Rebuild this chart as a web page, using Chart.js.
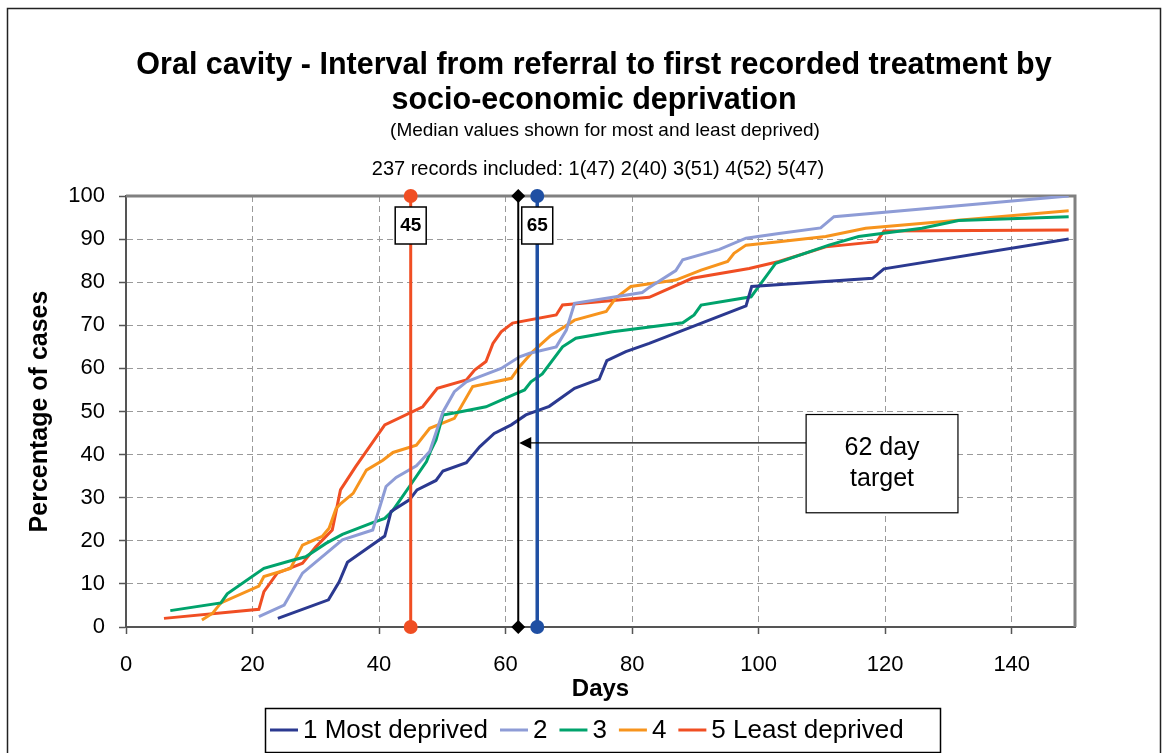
<!DOCTYPE html>
<html>
<head>
<meta charset="utf-8">
<script src="https://cdn.jsdelivr.net/npm/chart.js@4.4.1/dist/chart.umd.min.js"></script>
<style>
  html, body { margin: 0; padding: 0; background: #fff; }
  canvas { display: block; }
</style>
</head>
<body>
<canvas id="grafico" width="1167" height="753"></canvas>
<script>
// Datos (dias, % acumulado de casos)
const dias1 = [24, 32, 33.7, 35, 40.9, 41.9, 44.8, 46, 49, 50.1, 53.8, 55.9, 58.2, 60.9, 63.2, 66.9, 70.9, 74.8, 76, 79, 82.7, 98, 98.9, 118, 119.8, 149];
const pct1  = [2, 6.3, 10.5, 15, 21.1, 26.8, 29.5, 31.8, 34, 36.2, 38.1, 41.8, 44.9, 46.9, 49.2, 51.2, 55.4, 57.5, 61.8, 63.9, 65.8, 74.5, 79, 80.9, 83.1, 90];

const dias2 = [21, 25, 27.9, 34.2, 39, 41.1, 42.7, 45.9, 48, 50.1, 51.9, 53.8, 55.9, 59.3, 62.2, 63.8, 68, 69.6, 70.9, 81.6, 82.7, 86.9, 88, 93.8, 98, 103.2, 109.8, 111.9, 149];
const pct2  = [2.4, 5.1, 12.5, 20.2, 22.5, 32.6, 34.7, 37.4, 40.7, 49.9, 54.6, 56.9, 58.1, 60, 62.7, 63.5, 65, 68.9, 75.1, 77.6, 78.8, 82.7, 85.2, 87.6, 90.2, 91.3, 92.6, 95.2, 100];

const dias3 = [7, 15, 16, 21.8, 26.3, 28.4, 31.6, 34.2, 39, 40.9, 42.2, 44.8, 47.5, 48.2, 49, 50.1, 52.7, 56.9, 61.1, 63, 64, 65.8, 69, 71.1, 76.9, 88, 89.8, 90.9, 98.8, 102.7, 111.1, 115.8, 125.8, 131.6, 149];
const pct3  = [3.8, 5.6, 7.7, 13.6, 15.5, 16.3, 19.4, 21.5, 24.2, 25.2, 27.1, 32.6, 38.4, 41, 43.4, 49.2, 49.9, 51.1, 53.8, 55, 56.9, 58.7, 65, 67, 68.5, 70.6, 72.4, 74.7, 76.6, 84.4, 88.6, 90.6, 92.5, 94.3, 95.2];

const dias4 = [12, 13.7, 15, 21, 21.8, 26, 27.9, 31, 32.1, 33.2, 34, 35.9, 38, 40.6, 42.2, 45.9, 48, 51.9, 54.8, 60.9, 62.2, 64.3, 67.1, 70.9, 75.9, 77.4, 79.8, 86.9, 90.9, 95.1, 96.1, 98, 103.2, 110.6, 116.9, 149];
const pct4  = [1.6, 3.2, 5.6, 9.5, 11.7, 13.6, 19, 21, 22.9, 27.5, 28.7, 31, 36.4, 38.7, 40.5, 42.2, 46.1, 48.4, 55.8, 57.7, 60.4, 63.9, 67.6, 71.2, 73.2, 76.3, 79, 80.5, 82.8, 84.8, 86.7, 88.6, 89.4, 90.6, 92.5, 96.6];

const dias5 = [6, 21, 21.8, 23.9, 27.9, 30, 32.6, 33.9, 36.3, 40.9, 46.9, 49.2, 53.8, 55.1, 56.9, 58, 59.3, 61.1, 68, 69, 82.7, 89.5, 98.5, 103.2, 110.6, 118.7, 119.8, 149];
const pct5  = [2, 4.1, 8.2, 12.5, 14.8, 18.6, 22.5, 31.8, 37.2, 46.9, 51.1, 55.4, 57.3, 59.6, 61.6, 65.8, 68.5, 70.5, 72.4, 74.7, 76.5, 80.9, 83.2, 84.8, 88.2, 89.4, 91.9, 92.1];

const etiquetas = ['1 Most deprived', '2', '3', '4', '5 Least deprived'];
const ticksDias = [0, 20, 40, 60, 80, 100, 120, 140];

const medianaMenosPrivados = 45;   // grupo 5
const medianaMasPrivados = 65;     // grupo 1
const diaObjetivo = 62;

const TITULO = ['Oral cavity - Interval from referral to first recorded treatment by', 'socio-economic deprivation'];
const SUBTITULO = '(Median values shown for most and least deprived)';
const REGISTROS = '237 records included: 1(47) 2(40) 3(51) 4(52) 5(47)';

const COLORES = {
    S1: '#2B3990',
    S2: '#8E9CD6',
    S3: '#00A36C',
    S4: '#F7941D',
    S5: '#F04E23',
    AZUL: '#1F4FA3',
    TEXTO: '#000000',
    REJILLA: '#9A9A9A'
};

const FUENTE = 'Arial, "Liberation Sans", sans-serif';

function aPuntos(xs, ys) {
    return xs.map((d, i) => ({ x: d, y: ys[i] }));
}

function serie(etiqueta, xs, ys, color) {
    return {
        label: etiqueta,
        data: aPuntos(xs, ys),
        borderColor: color,
        backgroundColor: color,
        borderWidth: 3,
        pointRadius: 0,
        showLine: true,
        tension: 0,
        order: 2,
        enLeyenda: true
    };
}

function lineaVertical(dia, color, estilo, ancho) {
    return {
        label: 'v' + dia,
        data: [{ x: dia, y: 0 }, { x: dia, y: 100 }],
        borderColor: color,
        backgroundColor: color,
        borderWidth: ancho,
        pointStyle: estilo,
        pointRadius: 7,
        pointBorderWidth: 0,
        showLine: true,
        clip: false,
        order: 1,
        enLeyenda: false
    };
}

const decoracion = {
    id: 'decoracion',
    beforeDraw(chart) {
        const ctx = chart.ctx;
        ctx.save();
        ctx.fillStyle = '#fff';
        ctx.fillRect(0, 0, chart.width, chart.height);
        ctx.strokeStyle = '#222';
        ctx.lineWidth = 1.5;
        ctx.strokeRect(7.5, 8.5, 1153, 760);

        ctx.fillStyle = COLORES.TEXTO;
        ctx.textAlign = 'center';
        ctx.textBaseline = 'middle';
        ctx.font = `bold 30.5px ${FUENTE}`;
        ctx.fillText(TITULO[0], 594, 66);
        ctx.fillText(TITULO[1], 594, 101);
        ctx.font = `19px ${FUENTE}`;
        ctx.fillText(SUBTITULO, 605, 131);
        ctx.font = `20px ${FUENTE}`;
        ctx.fillText(REGISTROS, 598, 169);
        ctx.restore();
    },
    beforeDatasetsDraw(chart) {
        const { ctx, chartArea: a } = chart;
        ctx.save();
        ctx.strokeStyle = '#808080';
        ctx.lineWidth = 3;
        ctx.beginPath();
        ctx.moveTo(a.left, a.top);
        ctx.lineTo(a.right, a.top);
        ctx.lineTo(a.right, a.bottom);
        ctx.stroke();
        ctx.restore();
    },
    afterDatasetsDraw(chart) {
        const { ctx, scales: { x, y } } = chart;
        ctx.save();

        // Cajas con el valor de la mediana
        [medianaMenosPrivados, medianaMasPrivados].forEach(d => {
            const cx = x.getPixelForValue(d);
            ctx.fillStyle = '#fff';
            ctx.fillRect(cx - 15.5, 207, 31, 37);
            ctx.strokeStyle = '#000';
            ctx.lineWidth = 1.5;
            ctx.strokeRect(cx - 15.5, 207, 31, 37);
            ctx.fillStyle = '#000';
            ctx.font = `bold 19px ${FUENTE}`;
            ctx.textAlign = 'center';
            ctx.textBaseline = 'middle';
            ctx.fillText(String(d), cx, 226);
        });

        // Flecha y caja "62 day target"
        const yFlecha = y.getPixelForValue(42.7);
        const xPunta = x.getPixelForValue(diaObjetivo) + 1;
        const bx1 = x.getPixelForValue(107.5), bx2 = x.getPixelForValue(131.5);
        const by1 = y.getPixelForValue(49.3), by2 = y.getPixelForValue(26.5);
        ctx.strokeStyle = '#000';
        ctx.lineWidth = 1.2;
        ctx.beginPath();
        ctx.moveTo(bx1, yFlecha);
        ctx.lineTo(xPunta + 10, yFlecha);
        ctx.stroke();
        ctx.fillStyle = '#000';
        ctx.beginPath();
        ctx.moveTo(xPunta, yFlecha);
        ctx.lineTo(xPunta + 12, yFlecha - 6);
        ctx.lineTo(xPunta + 12, yFlecha + 6);
        ctx.closePath();
        ctx.fill();

        ctx.fillStyle = '#fff';
        ctx.fillRect(bx1, by1, bx2 - bx1, by2 - by1);
        ctx.lineWidth = 1.2;
        ctx.strokeRect(bx1, by1, bx2 - bx1, by2 - by1);
        ctx.fillStyle = '#000';
        ctx.font = `25px ${FUENTE}`;
        ctx.textAlign = 'center';
        ctx.textBaseline = 'middle';
        const bcx = (bx1 + bx2) / 2;
        ctx.fillText('62 day', bcx, by1 + 34);
        ctx.fillText('target', bcx, by1 + 65);
        ctx.restore();
    },
    afterDraw(chart) {
        // Leyenda con recuadro
        const ctx = chart.ctx;
        const items = chart.data.datasets.filter(ds => ds.enLeyenda);
        ctx.save();
        ctx.font = `26px ${FUENTE}`;
        ctx.textBaseline = 'middle';
        ctx.textAlign = 'left';
        const muestra = 28, hueco = 5, sep = 12;
        const cajaX = 265, cajaW = 675, cajaY = 708, cajaH = 44;
        let px = cajaX + 5;
        const py = cajaY + cajaH / 2;
        ctx.fillStyle = '#fff';
        ctx.fillRect(cajaX, cajaY, cajaW, cajaH);
        ctx.strokeStyle = '#000';
        ctx.lineWidth = 1.5;
        ctx.strokeRect(cajaX + 0.5, cajaY + 0.5, cajaW, cajaH);
        items.forEach(ds => {
            ctx.strokeStyle = ds.borderColor;
            ctx.lineWidth = 3;
            ctx.beginPath();
            ctx.moveTo(px, py);
            ctx.lineTo(px + muestra, py);
            ctx.stroke();
            px += muestra + hueco;
            ctx.fillStyle = COLORES.TEXTO;
            ctx.fillText(ds.label, px, py + 1);
            px += ctx.measureText(ds.label).width + sep;
        });
        ctx.restore();
    }
};

new Chart(document.getElementById('grafico').getContext('2d'), {
    type: 'scatter',
    data: {
        datasets: [
            lineaVertical(medianaMenosPrivados, COLORES.S5, 'circle', 3),
            lineaVertical(diaObjetivo, '#000', 'rectRot', 2),
            lineaVertical(medianaMasPrivados, COLORES.AZUL, 'circle', 3.5),
            serie(etiquetas[0], dias1, pct1, COLORES.S1),
            serie(etiquetas[1], dias2, pct2, COLORES.S2),
            serie(etiquetas[2], dias3, pct3, COLORES.S3),
            serie(etiquetas[3], dias4, pct4, COLORES.S4),
            serie(etiquetas[4], dias5, pct5, COLORES.S5)
        ]
    },
    options: {
        responsive: false,
        animation: false,
        layout: { padding: { left: 8, top: 196, right: 92, bottom: 46 } },
        plugins: {
            legend: { display: false },
            tooltip: { enabled: false },
            title: { display: false }
        },
        scales: {
            x: {
                type: 'linear',
                min: 0,
                max: 150,
                afterBuildTicks: scale => { scale.ticks = ticksDias.map(v => ({ value: v })); },
                afterFit: scale => { scale.height = 80; },
                ticks: { color: COLORES.TEXTO, font: { family: FUENTE, size: 22 }, padding: 18 },
                grid: { color: COLORES.REJILLA, lineWidth: 1, tickLength: 7, tickColor: '#555', tickWidth: 1.5 },
                border: { color: '#555', width: 2, dash: [6, 4] },
                title: { display: true, text: 'Days', color: COLORES.TEXTO, font: { family: FUENTE, size: 24, weight: 'bold' }, padding: { top: 0, bottom: 3 } }
            },
            y: {
                min: 0,
                max: 100,
                afterFit: scale => { scale.width = 118; },
                ticks: { stepSize: 10, color: COLORES.TEXTO, font: { family: FUENTE, size: 22 }, padding: 14 },
                grid: { color: COLORES.REJILLA, lineWidth: 1, tickLength: 7, tickColor: '#555', tickWidth: 1.5 },
                border: { color: '#555', width: 2, dash: [6, 4] },
                title: { display: true, text: 'Percentage of cases', color: COLORES.TEXTO, font: { family: FUENTE, size: 25, weight: 'bold' }, padding: { top: 17, bottom: 0 } }
            }
        }
    },
    plugins: [decoracion]
});
</script>
</body>
</html>
